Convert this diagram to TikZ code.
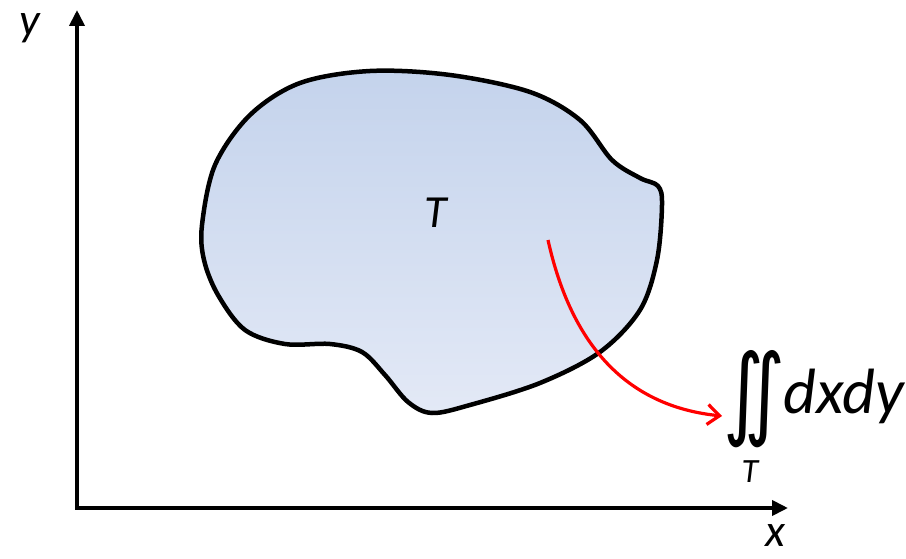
\documentclass[tikz,border=0pt]{standalone}
\usepackage{graphicx}
\usepackage{fontspec}
\setmainfont{Carlito}
\newfontfamily\dejavu{DejaVu Sans}
\usetikzlibrary{arrows.meta}
\definecolor{blobtop}{RGB}{196,211,236}
\definecolor{blobbot}{RGB}{227,233,246}
\tikzset{
  axis/.style={line width=3.8pt,-{Triangle[length=16pt,width=15pt]}},
  lbl/.style={inner sep=0pt,font=\fontsize{46}{46}\selectfont\itshape},
}
\begin{document}
\begin{tikzpicture}[x=1pt,y=-1pt]
\useasboundingbox (0,0) rectangle (906,559);
% region T
\draw[line width=4.5pt,top color=blobtop,bottom color=blobbot,shading angle=0]
  plot[smooth cycle,tension=0.55] coordinates {
  (202,225) (215,165) (250,115) (300,83) (370,71) (450,75) (530,92)
  (580,120) (612,160) (640,178) (658,186) (662,205) (657,260) (640,310)
  (600,352) (540,383) (470,405) (432,413) (408,402) (385,375) (362,352)
  (330,344) (285,344) (245,330) (218,295) (204,260)};
% axes
\coordinate (O) at (77,508);
\coordinate (Ytip) at (77,10);
\coordinate (Xtip) at (788,508);
\draw[axis] (O) -- (Ytip);
\draw[axis] ([xshift=-1.9pt]O) -- (Xtip);
\node[lbl] (ylab) at (30,28) {y};
\node[lbl] (xlab) at (775,536) {x};
\node[lbl] (Tlab) at (436,213) {T};
% integral
\node[inner sep=0pt] (int) at (754,399) {\resizebox{62pt}{76pt}{\dejavu ∬}};
\node[inner sep=0pt,anchor=west,font=\fontsize{64}{64}\selectfont\itshape] (dxdy) at (783,396) {dxdy};
\node[inner sep=0pt,font=\fontsize{34}{34}\selectfont\itshape] (Tsub) at (750,472) {T};
\coordinate (start) at (548,240);
\coordinate (tip) at (722,416);
\draw[red,line width=3.2pt,-{Straight Barb[length=12pt,width=20pt,line width=3.2pt]}]
  (start) .. controls (568,330) and (615,405) .. (tip);
\end{tikzpicture}
\end{document}
